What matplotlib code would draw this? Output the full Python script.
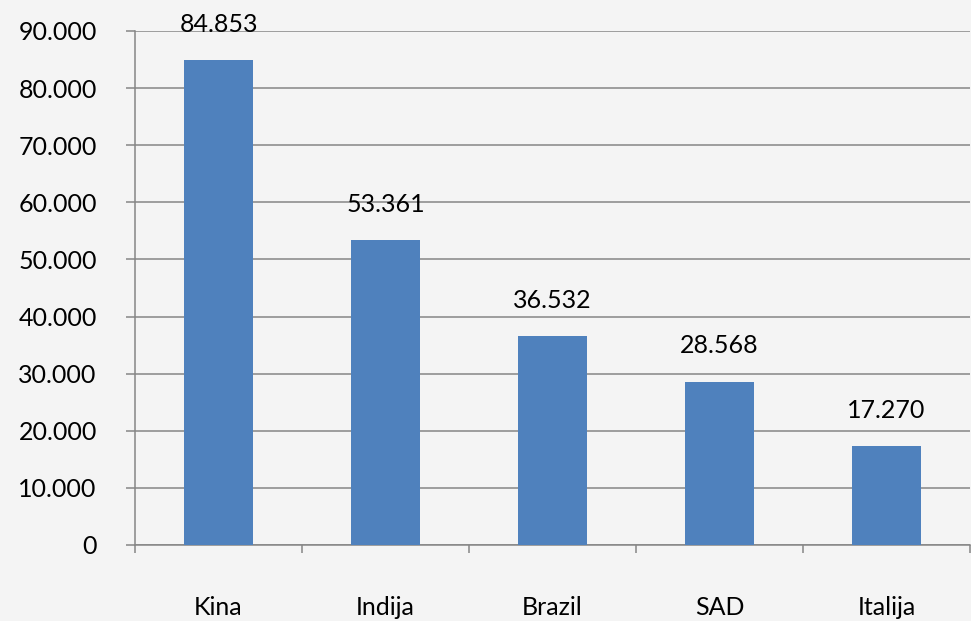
import numpy as np
import matplotlib.pyplot as plt
from matplotlib.ticker import FuncFormatter, FixedLocator

# -------------------- Data --------------------
countries = ['Kina', 'Indija', 'Brazil', 'SAD', 'Italija']
values = [84853, 53361, 36532, 28568, 17270]
y_ticks = list(range(0, 90001, 10000))
# ----------------------------------------------

plt.rcParams['font.family'] = ['Lato', 'DejaVu Sans']

def dot_fmt(v, pos=None):
    return f'{int(round(v)):,}'.replace(',', '.')

fig = plt.figure(figsize=(9.71, 6.21), dpi=100, facecolor='#f4f4f4')
ax = fig.add_axes([135 / 971, 1 - 545 / 621, 835 / 971, 514 / 621])
ax.set_facecolor('#f4f4f4')

x = np.arange(len(countries))
ax.bar(x, values, width=0.41, color='#4f81bd', zorder=3)

# value labels above the bars
for xi, v in zip(x, values):
    ax.text(xi, v + 4300, dot_fmt(v), ha='center', va='bottom', fontsize=18, color='black', zorder=4)

ax.set_xlim(-0.5, len(countries) - 0.5)
ax.set_ylim(0, 90000)
ax.set_yticks(y_ticks)
ax.yaxis.set_major_formatter(FuncFormatter(dot_fmt))
ax.grid(axis='y', color='#868686', linewidth=1.1, zorder=1)

ax.set_xticks(x)
ax.set_xticklabels(countries)
ax.xaxis.set_minor_locator(FixedLocator(np.arange(-0.5, len(countries), 1)))
ax.tick_params(axis='x', which='major', length=0, pad=37, labelsize=18)
ax.tick_params(axis='x', which='minor', length=6, width=1.1, color='#868686', direction='out')
ax.tick_params(axis='y', length=6.5, width=1.1, color='#868686', pad=21, labelsize=18)

for side in ['top', 'right']:
    ax.spines[side].set_visible(False)
for side in ['left', 'bottom']:
    ax.spines[side].set_color('#868686')
    ax.spines[side].set_linewidth(1.1)

fig.savefig('out.png', dpi=100, facecolor=fig.get_facecolor())
